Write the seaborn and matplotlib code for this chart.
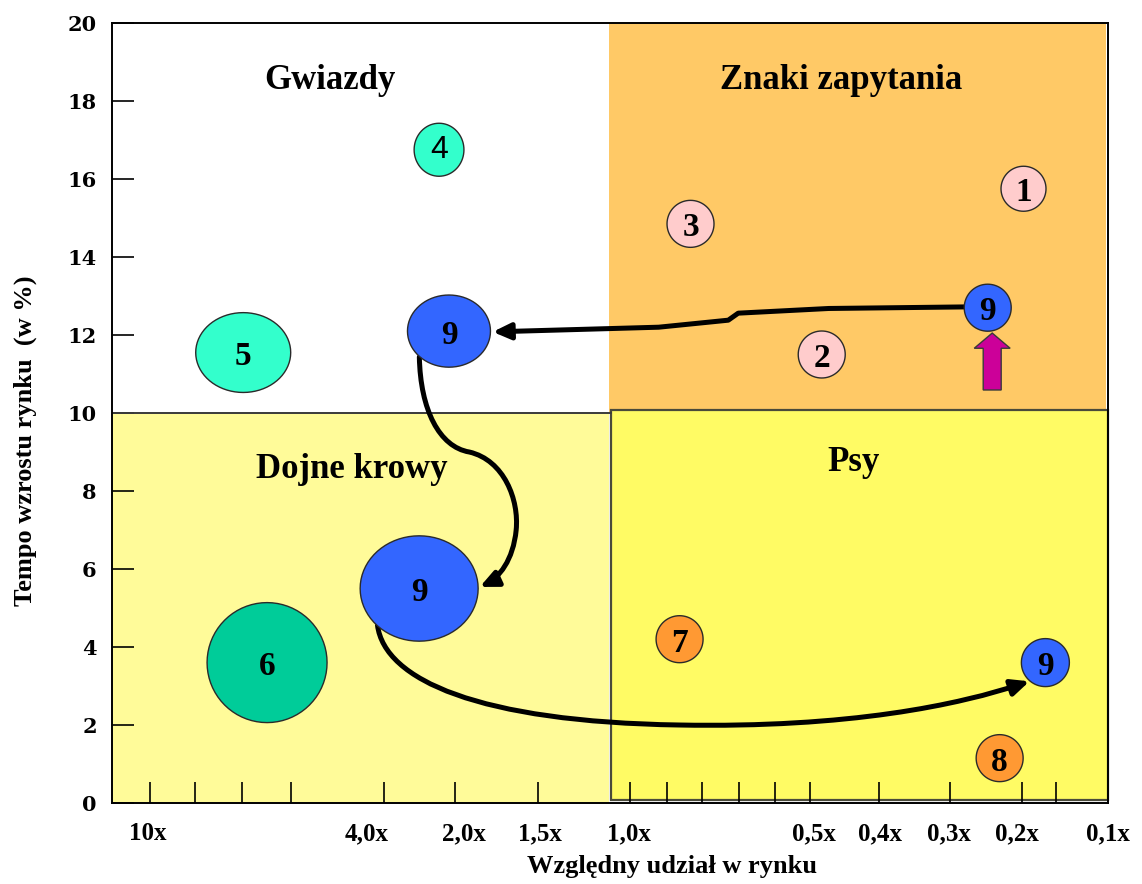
import numpy as np
import pandas as pd
import matplotlib
matplotlib.use("Agg")
import matplotlib.pyplot as plt
from matplotlib.path import Path
from matplotlib.patches import Rectangle, FancyArrowPatch, FancyArrow
import seaborn as sns

# ---- data -------------------------------------------------------------
# bubble labels (product / business unit numbers)
etykiety = ["1", "2", "3", "4", "5", "6", "7", "8", "9", "9", "9", "9"]
# position on the relative market share axis (0 = left edge, 100 = right edge)
udzial = [91.7, 71.4, 58.2, 32.9, 13.2, 15.6, 57.1, 89.3, 88.1, 33.9, 30.9, 93.9]
# market growth rate in %
wzrost = [15.75, 11.5, 14.85, 16.75, 11.55, 3.6, 4.2, 1.15, 12.7, 12.1, 5.5, 3.6]
# bubble size (sales volume, major axis) and its width/height ratio
sprzedaz = [45, 47, 47, 53, 95, 120, 47, 47, 47, 83, 118, 48]
proporcja = [1.0, 1.0, 1.0, 0.94, 1.19, 1.0, 1.0, 1.0, 1.0, 1.15, 1.12, 1.0]

# x axis: labelled positions and the tick marks along the bottom edge
os_x_pozycje = [3.6, 25.6, 35.4, 43.1, 52.0, 70.6, 77.3, 84.2, 91.0, 100.2]
os_x_etykiety = ["10x", "4,0x", "2,0x", "1,5x", "1,0x", "0,5x", "0,4x", "0,3x", "0,2x", "0,1x"]
os_x_kreski = [3.8, 8.4, 13.1, 18.0, 27.4, 34.5, 42.9, 52.1, 55.8, 59.4,
               63.1, 66.7, 70.2, 77.2, 84.3, 91.5, 95.0]
os_y_ticks = list(range(0, 21, 2))

cwiartki = ["Gwiazdy", "Znaki zapytania", "Dojne krowy", "Psy"]

# ---- style ------------------------------------------------------------
sns.set_style("white")
plt.rcParams["font.family"] = ["Liberation Serif", "DejaVu Serif"]
plt.rcParams.update({"text.color": "black", "axes.labelcolor": "black",
                     "xtick.color": "black", "ytick.color": "black"})

kolory = {"1": "#FFCCCC", "2": "#FFCCCC", "3": "#FFCCCC",
          "4": "#33FFCC", "5": "#33FFCC", "6": "#00CC99",
          "7": "#FF9933", "8": "#FF9933", "9": "#3366FF"}

fig = plt.figure(figsize=(11.42, 8.84), dpi=100)
ax = fig.add_axes([112 / 1142, 1 - 803 / 884, 996 / 1142, 780 / 884])
ax.set_xlim(0, 100)
ax.set_ylim(0, 20)
ax.set_facecolor("white")

# quadrant backgrounds
ax.add_patch(Rectangle((50, 10), 50, 10, facecolor="#FFC966", edgecolor="none", zorder=0))
ax.add_patch(Rectangle((0, 0), 50, 10, facecolor="#FFFB99", edgecolor="none", zorder=0))
ax.add_patch(Rectangle((50.25, 0.08), 49.95, 10.0, facecolor="#FFFB64",
                       edgecolor="#4a4a3a", linewidth=1.6, zorder=0.5, clip_on=False))
ax.plot([0, 50.25], [10, 10], color="#3a3a3a", lw=1.4, zorder=0.6)

# bubbles
df = pd.DataFrame({
    "etykieta": etykiety,
    "udzial": udzial,
    "wzrost": wzrost,
    "sprzedaz": sprzedaz,
    "proporcja": proporcja,
})
df["pole"] = (df["sprzedaz"] * 0.72) ** 2          # marker area in pt^2
df["ksztalt"] = df["proporcja"].map(lambda v: f"{v:.2f}")

t = np.linspace(0, 2 * np.pi, 73)
markery = {}
for k in df["ksztalt"].unique():
    a = float(k)
    verts = np.column_stack([a * np.cos(t), np.sin(t)])
    markery[k] = Path(verts, closed=True)

pmin, pmax = df["pole"].min(), df["pole"].max()
sns.scatterplot(data=df, x="udzial", y="wzrost", hue="etykieta", palette=kolory,
                size="pole", sizes=(pmin, pmax), size_norm=(pmin, pmax),
                style="ksztalt", markers=markery,
                edgecolor="#2a2a2a", linewidth=1.0, legend=False, ax=ax, zorder=3)

for lab, x, y in zip(etykiety, udzial, wzrost):
    if lab == "4":
        ax.text(x, y, lab, ha="center", va="center", fontsize=23,
                family=["Liberation Sans"], zorder=5)
    else:
        ax.text(x, y - 0.1, lab, ha="center", va="center", fontsize=24,
                fontweight="bold", zorder=5)

# movement of product 9 between quadrants
styl = "-|>,head_length=0.7,head_width=0.32"
trasa1 = [(85.7, 12.72), (72.1, 12.68), (63.0, 12.56), (62.0, 12.38),
          (55.0, 12.2), (38.3, 12.08)]
kody1 = [Path.MOVETO] + [Path.LINETO] * (len(trasa1) - 1)
trasa2 = [(30.92, 11.44), (31.02, 10.08), (32.93, 9.13), (35.94, 9.0),
          (39.46, 8.79), (40.96, 7.77), (40.66, 7.0),
          (40.36, 6.23), (38.96, 5.77), (37.0, 5.54)]
kody2 = [Path.MOVETO] + [Path.CURVE4] * 9
trasa3 = [(26.71, 4.56), (27.41, 3.15), (36.95, 2.08), (57.03, 2.0),
          (74.10, 1.92), (85.14, 2.51), (92.3, 3.12)]
kody3 = [Path.MOVETO] + [Path.CURVE4] * 6
for tr, kd in [(trasa1, kody1), (trasa2, kody2), (trasa3, kody3)]:
    ax.add_patch(FancyArrowPatch(path=Path(tr, kd), arrowstyle=styl,
                                 mutation_scale=15, lw=3.6, color="black",
                                 joinstyle="round", capstyle="round", zorder=2.5))

# growth indicator under product 9
x9, y9 = udzial[8], wzrost[8]
ax.add_patch(FancyArrow(x9 + 0.45, 10.59, 0, 1.46, width=1.81, head_width=3.61,
                        head_length=0.39, length_includes_head=True,
                        facecolor="#CC0099", edgecolor="#3a3a3a", lw=1.0, zorder=4))

# quadrant names
pozycje_nazw = [(21.9, 18.53), (73.4, 18.53), (24.1, 8.54), (74.6, 8.74)]
for nazwa, (x, y) in zip(cwiartki, pozycje_nazw):
    ax.text(x, y, nazwa, ha="center", va="center", fontsize=25,
            fontweight="bold", zorder=5)

# axes, ticks and labels
for s in ax.spines.values():
    s.set_visible(True)
    s.set_color("black")
    s.set_linewidth(1.4)
ax.set_yticks(os_y_ticks)
ax.set_yticklabels([str(v) for v in os_y_ticks], family=["DejaVu Serif"],
                   fontweight="bold", fontsize=15)
ax.tick_params(axis="y", left=True, direction="in", length=16, width=1.2, pad=11,
               color="black")
ax.set_xticks(os_x_pozycje)
ax.set_xticklabels(os_x_etykiety, fontsize=18, fontweight="bold")
ax.set_xticks(os_x_kreski, minor=True)
ax.tick_params(axis="x", which="major", bottom=True, length=0, pad=14)
ax.tick_params(axis="x", which="minor", bottom=True, direction="in", length=15,
               width=1.2, color="black")

ax.set_xlabel("Względny udział w rynku", fontsize=19, fontweight="bold")
ax.xaxis.set_label_coords(0.562, -0.082)
ax.xaxis.label.set_va("center")
ax.set_ylabel("Tempo wzrostu rynku  (w %)", fontsize=19, fontweight="bold")
ax.yaxis.set_label_coords(-0.087, 0.465)
ax.yaxis.label.set_va("center")

fig.savefig("out.png", dpi=100)
